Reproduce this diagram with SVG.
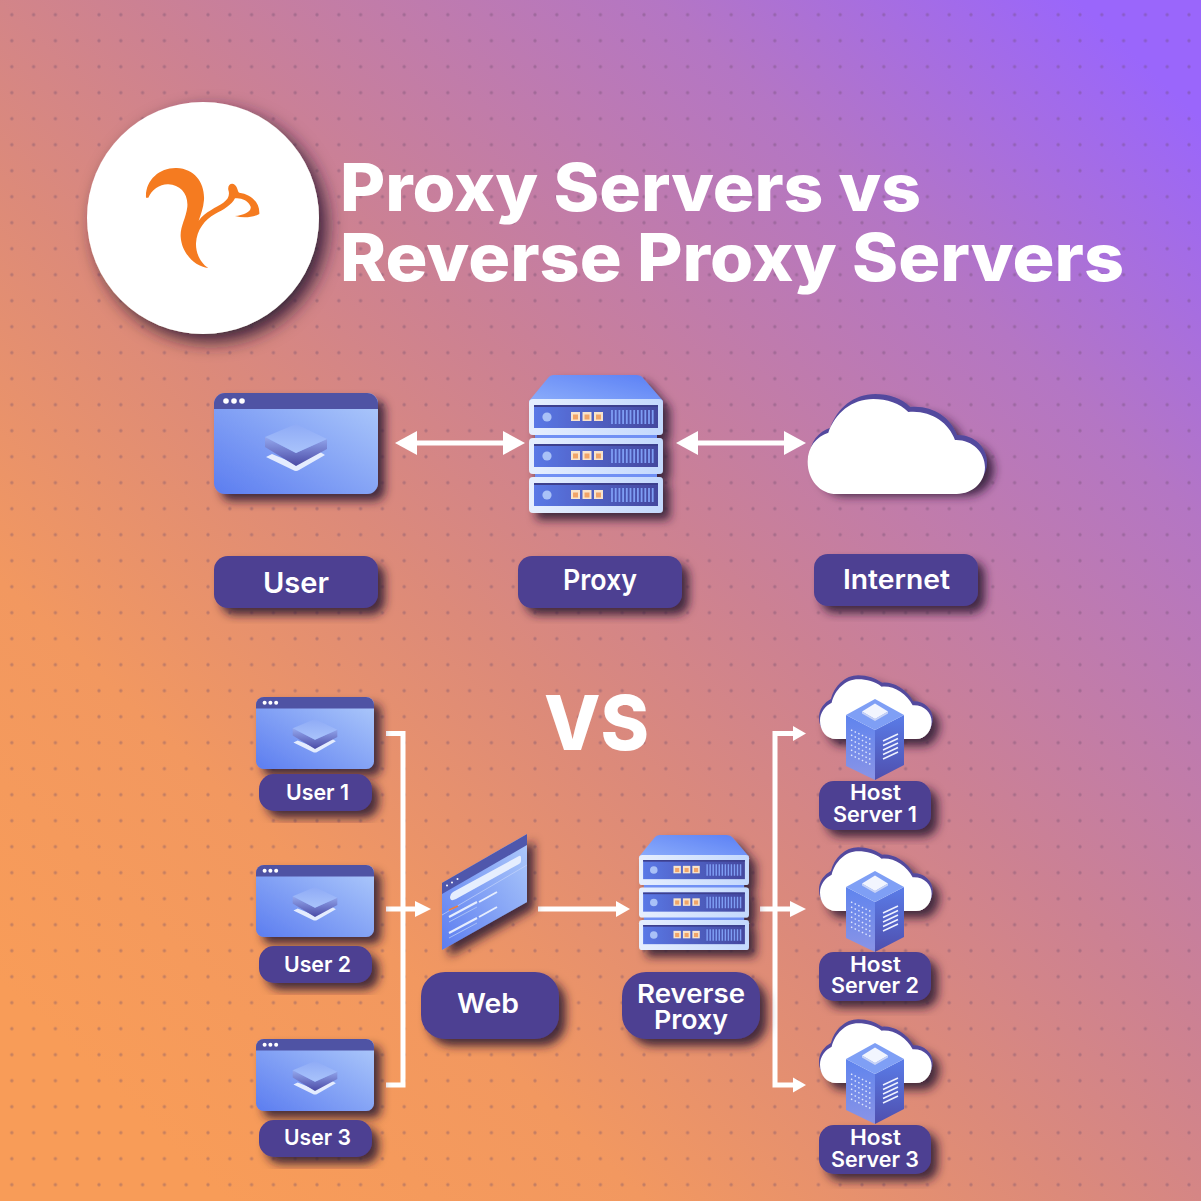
<svg xmlns="http://www.w3.org/2000/svg" width="1201" height="1201" viewBox="0 0 1201 1201">
<style>
text{font-family:"Inter","Liberation Sans",sans-serif;font-weight:600;fill:#fff}
.lab{fill:#4d3f92}
.t{font-weight:800}
.wire{fill:none;stroke:#fff;stroke-width:5}
.head{fill:#fff}
</style>
<defs>
<linearGradient id="bg" gradientUnits="userSpaceOnUse" x1="110" y1="1090" x2="1120" y2="40">
<stop offset="0" stop-color="#f89c58"/><stop offset=".2" stop-color="#f29860"/><stop offset=".4" stop-color="#dc8a7a"/><stop offset=".55" stop-color="#cc8193"/><stop offset=".8" stop-color="#b476c4"/><stop offset="1" stop-color="#9a66fb"/>
</linearGradient>
<pattern id="dots" patternUnits="userSpaceOnUse" x="11.8" y="14.7" width="21.8" height="26"><circle cx="0" cy="0" r="1.7" fill="#6b4a6a" opacity=".34"/><circle cx="21.8" cy="0" r="1.7" fill="#6b4a6a" opacity=".34"/><circle cx="0" cy="26" r="1.7" fill="#6b4a6a" opacity=".34"/><circle cx="21.8" cy="26" r="1.7" fill="#6b4a6a" opacity=".34"/></pattern>
<filter id="sh" x="-25%" y="-25%" width="155%" height="155%"><feDropShadow dx="7" dy="7" stdDeviation="5" flood-color="#2c1830" flood-opacity=".85"/></filter>
<filter id="shb" x="-20%" y="-20%" width="145%" height="145%"><feDropShadow dx="8" dy="8" stdDeviation="9" flood-color="#2c1830" flood-opacity=".9"/></filter>
<linearGradient id="win" x1="0" y1="1" x2="1" y2="0"><stop offset="0" stop-color="#5c7df0"/><stop offset="1" stop-color="#afcbfb"/></linearGradient>
<linearGradient id="panel" x1="0" y1="0" x2="1" y2="0"><stop offset="0" stop-color="#5a78e6"/><stop offset="1" stop-color="#44479e"/></linearGradient>
<linearGradient id="top" x1="0" y1="1" x2="1" y2="0"><stop offset="0" stop-color="#8fb0fb"/><stop offset="1" stop-color="#5a7ff5"/></linearGradient>
<linearGradient id="unit" x1="0" y1="0" x2="1" y2="0"><stop offset="0" stop-color="#e6effe"/><stop offset="1" stop-color="#c3d8fd"/></linearGradient>
<linearGradient id="lay" x1="0" y1="0" x2="0" y2="1"><stop offset="0" stop-color="#8fabf6"/><stop offset="1" stop-color="#a9c3fb"/></linearGradient>
<linearGradient id="side" x1="0" y1="0" x2="0" y2="1"><stop offset="0" stop-color="#94a8ee"/><stop offset="1" stop-color="#4a4aa5"/></linearGradient>
<linearGradient id="tl" x1="0" y1="0" x2="0" y2="1"><stop offset="0" stop-color="#5f84ee"/><stop offset="1" stop-color="#8a94e6"/></linearGradient>
<linearGradient id="tr" x1="0" y1="0" x2="0" y2="1"><stop offset="0" stop-color="#5a7ce8"/><stop offset="1" stop-color="#4f4fae"/></linearGradient>

<symbol id="window" viewBox="0 0 164 101" preserveAspectRatio="none">
<rect width="164" height="101" rx="11" fill="url(#win)"/>
<path d="M0,16V11A11,11 0 0 1 11,0H153A11,11 0 0 1 164,11V16Z" fill="#5052a4"/>
<circle cx="12" cy="8" r="2.8" fill="#fff"/><circle cx="20" cy="8" r="2.8" fill="#fff"/><circle cx="28" cy="8" r="2.8" fill="#fff"/>
<path d="M52,64L58,61L82,71L106,59L111,62L85,77Q82,79 79,77Z" fill="#e4ecfe"/>
<path d="M51,44V54L82,73L113,56V46L82,60Z" fill="url(#side)"/>
<path d="M51,44L82,31L113,46L82,60Z" fill="url(#lay)"/>
</symbol>

<g id="unitG">
<rect x="0" y="0" width="134" height="36" rx="4" fill="url(#unit)"/>
<rect x="5" y="6" width="124" height="23" fill="url(#panel)"/>
<rect x="5" y="6" width="124" height="2" fill="#3d3f8e"/>
<circle cx="18" cy="18" r="4.6" fill="#a9c1f7"/>
<g fill="#f8e4cc"><rect x="42" y="13" width="9" height="9"/><rect x="53.500" y="13" width="9" height="9"/><rect x="65" y="13" width="9" height="9"/></g>
<g fill="#f0a468"><rect x="44" y="15.500" width="5" height="5"/><rect x="55.500" y="15.500" width="5" height="5"/><rect x="67" y="15.500" width="5" height="5"/></g>
<path d="M83,11v14M86.700,11v14M90.400,11v14M94.100,11v14M97.800,11v14M101.500,11v14M105.200,11v14M108.900,11v14M112.600,11v14M116.300,11v14M120,11v14M123.700,11v14" stroke="#7e9df3" stroke-width="1.800" fill="none"/>
</g>
<symbol id="server" viewBox="0 0 134 138" preserveAspectRatio="none" overflow="visible">
<path d="M0,26L19,3Q21,0 25,0H107Q112,0 114,3L134,26V30H0Z" fill="url(#top)"/>
<rect x="6" y="58" width="122" height="7" fill="#6f90f4"/><rect x="6" y="97" width="122" height="7" fill="#6f90f4"/>
<use href="#unitG" x="0" y="24"/>
<use href="#unitG" x="0" y="63"/>
<use href="#unitG" x="0" y="102"/>
</symbol>

<path id="cloudB" d="M500,342H860C910,342 945,305 945,262C945,215 905,178 855,180C835,125 780,90 715,96C690,70 650,57 610,57C545,57 495,100 475,158C440,170 413,200 413,245C413,300 450,342 500,342Z"/>
<path id="cloudS" d="M228,207H468C495,207 515,182 515,155C515,128 492,104 458,106C440,70 400,46 365,50C345,35 320,28 295,28C255,28 225,60 215,98C195,108 180,128 180,152C180,182 200,207 228,207Z"/>

<g id="hostG">
<g filter="url(#sh)"><use href="#cloudS" transform="translate(760,667) scale(.3333)" fill="#534a9e" stroke="#534a9e" stroke-width="6"/><use href="#cloudS" transform="translate(760,670) scale(.3333)" fill="#fff"/></g>
<path d="M846,715L875,730V780L846,766Z" fill="url(#tl)"/>
<path d="M904,715L875,730V780L904,765Z" fill="url(#tr)"/>
<path d="M875,699L904,715L875,730L846,715Z" fill="#7f9ff5"/>
<path d="M875,703.500L888,711.500L875,719L862,711.500Z" fill="#f2f5fe"/>
<path d="M862,711.500L875,719L888,711.500V713.500L875,721L862,713.500Z" fill="#c8d3f6"/>
<path d="M851,730l21,10M851,735l21,10M851,740l21,10M851,745l21,10M851,750l21,10M851,755l21,10" stroke="#dfe7fe" stroke-width="1.400" stroke-dasharray="1.500 2.500" fill="none"/>
<path d="M883,741l15,-7M883,745.500l15,-7M883,750l15,-7M883,754.500l15,-7M883,759l15,-7" stroke="#eef2ff" stroke-width="1.500" fill="none"/>
</g>
</defs>

<rect width="1201" height="1201" fill="url(#bg)"/>
<rect width="1201" height="1201" fill="url(#dots)"/>

<g id="logo">
<circle cx="203" cy="218" r="116" fill="#fff" filter="url(#shb)"/>
<path transform="translate(80,90) scale(.33333)" fill="#f57b20" d="M198,323C195,270 240,232 290,234C345,236 375,280 372,330C370,355 362,375 356,392C375,365 410,352 430,338C445,328 450,315 445,300C442,285 455,276 465,285C475,295 472,305 478,308C510,312 540,335 538,372C520,382 490,385 465,378C490,376 515,365 512,350C505,330 480,322 465,325C455,345 430,360 405,372C375,388 350,420 348,460C347,490 362,520 385,534C345,530 305,490 302,440C300,410 318,385 322,350C325,310 300,285 265,283C240,282 215,300 205,323Z"/>
</g>
<g id="title">
<text class="t" x="340" y="211" font-size="66" textLength="581" lengthAdjust="spacingAndGlyphs">Proxy Servers vs</text>
<text class="t" x="340" y="281" font-size="66" textLength="784" lengthAdjust="spacingAndGlyphs">Reverse Proxy Servers</text>
</g>
<text id="vs" x="544" y="750" font-size="76" style="font-weight:800" textLength="105" lengthAdjust="spacingAndGlyphs">VS</text>

<g id="connectors">
<path class="wire" d="M400,443H512"/><path class="head" d="M395,443L417,431V455Z"/><path class="head" d="M525,443L503,431V455Z"/>
<path class="wire" d="M682,443H792"/><path class="head" d="M676,443L698,431V455Z"/><path class="head" d="M806,443L784,431V455Z"/>
<path class="wire" d="M386,733.500H403V1085H386"/>
<path class="wire" d="M386,909H420"/><path class="head" d="M431,909L415,901V917Z"/>
<path class="wire" d="M538,909H620"/><path class="head" d="M630,909L616,901V917Z"/>
<path class="wire" d="M760,909H795"/><path class="head" d="M806,909L790,901V917Z"/>
<path class="wire" d="M795,733.500H775V1085H795"/>
<path class="head" d="M806,733.500L793,726V741Z"/><path class="head" d="M806,1085L793,1077.500V1092.500Z"/>
</g>

<g id="user"><use href="#window" x="214" y="393" width="164" height="101" filter="url(#sh)"/>
<rect class="lab" x="214" y="556" width="164" height="52" rx="14" filter="url(#sh)"/>
<text x="263" y="593" font-size="29" textLength="66" lengthAdjust="spacingAndGlyphs">User</text></g>

<g id="proxy"><g filter="url(#sh)"><use href="#server" x="529" y="375" width="134" height="138"/></g>
<rect class="lab" x="518" y="556" width="164" height="52" rx="14" filter="url(#sh)"/>
<text x="563" y="590" font-size="28" textLength="74" lengthAdjust="spacingAndGlyphs">Proxy</text></g>

<g id="internet"><g filter="url(#sh)"><use href="#cloudB" transform="translate(672,375) scale(.3333)" fill="#534a9e"/></g>
<use href="#cloudB" transform="translate(670,380) scale(.3333)" fill="#fff"/>
<rect class="lab" x="814" y="554" width="164" height="52" rx="14" filter="url(#sh)"/>
<text x="843" y="589" font-size="27" textLength="107" lengthAdjust="spacingAndGlyphs">Internet</text></g>

<g id="user1"><use href="#window" x="256" y="697" width="118" height="72" filter="url(#sh)"/>
<rect class="lab" x="259" y="774" width="113" height="37" rx="15" filter="url(#sh)"/>
<text x="286" y="800" font-size="22" textLength="63" lengthAdjust="spacingAndGlyphs">User 1</text></g>
<g id="user2"><use href="#window" x="256" y="865" width="118" height="72" filter="url(#sh)"/>
<rect class="lab" x="259" y="946" width="113" height="37" rx="15" filter="url(#sh)"/>
<text x="284" y="972" font-size="22" textLength="67" lengthAdjust="spacingAndGlyphs">User 2</text></g>
<g id="user3"><use href="#window" x="256" y="1039" width="118" height="72" filter="url(#sh)"/>
<rect class="lab" x="259" y="1120" width="113" height="37" rx="15" filter="url(#sh)"/>
<text x="284" y="1145" font-size="22" textLength="67" lengthAdjust="spacingAndGlyphs">User 3</text></g>

<g id="web">
<path d="M442,883L527,834V902L442,950Z" fill="url(#win)" filter="url(#sh)"/>
<path d="M442,883L527,834V845L442,894Z" fill="#4f57ac"/>
<path d="M453,892L519,856Q521,855 521,858V861Q521,863 519,864L456,899Q450,902 450,897Q450,894 453,892Z" fill="#e6eefe"/>
<path d="M442,915L527,865" stroke="#c4d4fa" stroke-width=".7" fill="none"/>
<circle cx="447" cy="885.500" r="1" fill="#fff"/><circle cx="452" cy="882.500" r="1" fill="#fff"/><circle cx="457.500" cy="879" r="1" fill="#fff"/>
<path d="M449,917L477,902M449,933L477,918M479,902L497,892M479,917L497,907" stroke="#e6eefe" stroke-width="2" fill="none"/>
<path d="M449,922L477,907M449,938L477,923" stroke="#a8c0f6" stroke-width="1" fill="none"/>
<path d="M449,910L458,906" stroke="#f07d3a" stroke-width="1.400" fill="none"/>
<rect class="lab" x="421" y="972" width="138" height="67" rx="24" filter="url(#sh)"/>
<text x="457" y="1013" font-size="27" textLength="62" lengthAdjust="spacingAndGlyphs">Web</text>
</g>

<g id="reverse-proxy"><g filter="url(#sh)"><use href="#server" x="639" y="835" width="110" height="115"/></g>
<rect class="lab" x="622" y="972" width="138" height="67" rx="24" filter="url(#sh)"/>
<text x="637" y="1003" font-size="26" textLength="108" lengthAdjust="spacingAndGlyphs">Reverse</text>
<text x="654" y="1029" font-size="26" textLength="74" lengthAdjust="spacingAndGlyphs">Proxy</text></g>

<g id="host1"><use href="#hostG"/>
<rect class="lab" x="819" y="781" width="112" height="49" rx="15" filter="url(#sh)"/>
<text x="850" y="800" font-size="21" textLength="51" lengthAdjust="spacingAndGlyphs">Host</text>
<text x="833" y="822" font-size="21" textLength="84" lengthAdjust="spacingAndGlyphs">Server 1</text></g>
<g id="host2"><use href="#hostG" y="172"/>
<rect class="lab" x="819" y="952" width="112" height="49" rx="15" filter="url(#sh)"/>
<text x="850" y="972" font-size="21" textLength="51" lengthAdjust="spacingAndGlyphs">Host</text>
<text x="831" y="993" font-size="21" textLength="88" lengthAdjust="spacingAndGlyphs">Server 2</text></g>
<g id="host3"><use href="#hostG" y="344"/>
<rect class="lab" x="819" y="1125" width="112" height="49" rx="15" filter="url(#sh)"/>
<text x="850" y="1145" font-size="21" textLength="51" lengthAdjust="spacingAndGlyphs">Host</text>
<text x="831" y="1167" font-size="21" textLength="88" lengthAdjust="spacingAndGlyphs">Server 3</text></g>
</svg>
